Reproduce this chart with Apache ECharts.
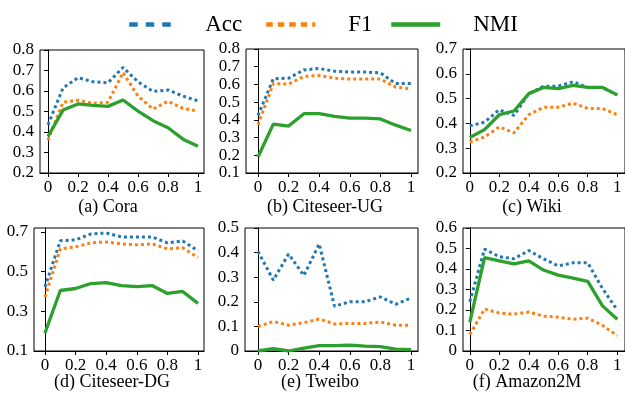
<!DOCTYPE html>
<html>
<head>
<meta charset="utf-8">
<script src="https://cdn.jsdelivr.net/npm/echarts@6/dist/echarts.min.js"></script>
<style>
  html, body { margin: 0; padding: 0; background: #fff; }
  #chart { width: 625px; height: 395px; }
</style>
</head>
<body>
<div id="chart"></div>
<script>
// x positions of the points (ratio), and x tick labels
const xs = [0, 0.1, 0.2, 0.3, 0.4, 0.5, 0.6, 0.7, 0.8, 0.9, 1];
const xTicks = [0, 0.2, 0.4, 0.6, 0.8, 1];

// (a) Cora
const coraAcc = [0.435, 0.615, 0.665, 0.645, 0.64, 0.715, 0.645, 0.598, 0.605, 0.575, 0.552];
const coraF1 = [0.36, 0.545, 0.555, 0.54, 0.545, 0.69, 0.575, 0.512, 0.55, 0.515, 0.502];
const coraNmi = [0.378, 0.507, 0.537, 0.53, 0.525, 0.556, 0.502, 0.455, 0.421, 0.365, 0.33];
const coraTicks = [0.2, 0.3, 0.4, 0.5, 0.6, 0.7, 0.8];

// (b) Citeseer-UG
const ugAcc = [0.425, 0.632, 0.635, 0.682, 0.69, 0.675, 0.67, 0.67, 0.665, 0.605, 0.605];
const ugF1 = [0.372, 0.605, 0.602, 0.645, 0.65, 0.635, 0.63, 0.63, 0.63, 0.585, 0.575];
const ugNmi = [0.19, 0.376, 0.365, 0.435, 0.435, 0.42, 0.41, 0.41, 0.405, 0.37, 0.34];
const ugTicks = [0.1, 0.2, 0.3, 0.4, 0.5, 0.6, 0.7, 0.8];

// (c) Wiki
const wikiAcc = [0.39, 0.405, 0.455, 0.432, 0.52, 0.55, 0.55, 0.568, 0.545, 0.545, 0.515];
const wikiF1 = [0.325, 0.345, 0.386, 0.362, 0.435, 0.465, 0.465, 0.482, 0.46, 0.46, 0.435];
const wikiNmi = [0.343, 0.375, 0.435, 0.45, 0.52, 0.545, 0.54, 0.553, 0.545, 0.545, 0.515];
const wikiTicks = [0.2, 0.3, 0.4, 0.5, 0.6, 0.7];

// (d) Citeseer-DG
const dgAcc = [0.423, 0.656, 0.66, 0.69, 0.695, 0.675, 0.675, 0.675, 0.645, 0.655, 0.605];
const dgF1 = [0.372, 0.615, 0.625, 0.645, 0.65, 0.64, 0.635, 0.64, 0.615, 0.62, 0.571];
const dgNmi = [0.191, 0.405, 0.415, 0.44, 0.445, 0.43, 0.425, 0.43, 0.39, 0.4, 0.34];
const dgTicks = [0.1, 0.3, 0.5, 0.7];

// (e) Tweibo
const twAcc = [0.405, 0.288, 0.394, 0.307, 0.435, 0.182, 0.2, 0.2, 0.22, 0.19, 0.215];
const twF1 = [0.1, 0.12, 0.105, 0.115, 0.13, 0.11, 0.112, 0.112, 0.118, 0.105, 0.105];
const twNmi = [0.0, 0.01, 0.0, 0.012, 0.022, 0.022, 0.024, 0.02, 0.018, 0.008, 0.005];
const twTicks = [0, 0.1, 0.2, 0.3, 0.4, 0.5];

// (f) Amazon2M
const amAcc = [0.24, 0.497, 0.46, 0.45, 0.49, 0.45, 0.415, 0.43, 0.43, 0.305, 0.2];
const amF1 = [0.08, 0.205, 0.185, 0.18, 0.19, 0.17, 0.165, 0.155, 0.16, 0.125, 0.075];
const amNmi = [0.14, 0.455, 0.44, 0.425, 0.44, 0.395, 0.37, 0.355, 0.34, 0.22, 0.155];
const amTicks = [0, 0.1, 0.2, 0.3, 0.4, 0.5, 0.6];

const captions = ['(a) Cora', '(b) Citeseer-UG', '(c) Wiki', '(d) Citeseer-DG', '(e) Tweibo', '(f) Amazon2M'];

const panels = [
  { acc: coraAcc, f1: coraF1, nmi: coraNmi, ticks: coraTicks, yMax: 0.8 },
  { acc: ugAcc, f1: ugF1, nmi: ugNmi, ticks: ugTicks, yMax: 0.8 },
  { acc: wikiAcc, f1: wikiF1, nmi: wikiNmi, ticks: wikiTicks, yMax: 0.7 },
  { acc: dgAcc, f1: dgF1, nmi: dgNmi, ticks: dgTicks, yMax: 0.72 },
  { acc: twAcc, f1: twF1, nmi: twNmi, ticks: twTicks, yMax: 0.5 },
  { acc: amAcc, f1: amF1, nmi: amNmi, ticks: amTicks, yMax: 0.6 }
];

// frame box [left, top, right, bottom], pixel x of value 0 and 1, caption centre
const boxes = [
  { l: 40, t: 50, r: 204, b: 173, x0: 48, x1: 198, cx: 108, cy: 208 },
  { l: 246, t: 49, r: 418, b: 173, x0: 258, x1: 411, cx: 325, cy: 208 },
  { l: 463, t: 49, r: 630, b: 173, x0: 470, x1: 622, cx: 532, cy: 208 },
  { l: 34, t: 228, r: 204, b: 351, x0: 45, x1: 198, cx: 112, cy: 383 },
  { l: 245, t: 228, r: 418, b: 351, x0: 258, x1: 411, cx: 320, cy: 383 },
  { l: 463, t: 228, r: 630, b: 351, x0: 470, x1: 622, cx: 527, cy: 383 }
];

const FONT = "'Liberation Serif', 'Times New Roman', serif";
const colors = { Acc: '#1f77b4', F1: '#ff7f0e', NMI: '#2ca02c' };

const grid = [];
const xAxis = [];
const yAxis = [];
const series = [];
const title = [];

panels.forEach((p, i) => {
  const b = boxes[i];
  const scale = b.x1 - b.x0;
  grid.push({
    left: b.l,
    top: b.t,
    width: b.r - b.l,
    height: b.b - b.t,
    show: true,
    borderColor: '#000',
    borderWidth: 1,
    backgroundColor: 'transparent'
  });
  xAxis.push({
    type: 'value',
    gridIndex: i,
    min: -(b.x0 - b.l) / scale,
    max: 1 + (b.r - b.x1) / scale,
    splitLine: { show: false },
    axisLine: { show: true, lineStyle: { color: '#000', width: 1 } },
    axisTick: { show: true, length: 4, customValues: xTicks, lineStyle: { color: '#000' } },
    axisLabel: { customValues: xTicks, margin: 6, color: '#000', fontSize: 17, fontFamily: FONT }
  });
  yAxis.push({
    type: 'value',
    gridIndex: i,
    min: p.ticks[0],
    max: p.yMax,
    splitLine: { show: false },
    axisLine: { show: true, lineStyle: { color: '#000', width: 1 } },
    axisTick: { show: true, length: 4, customValues: p.ticks, lineStyle: { color: '#000' } },
    axisLabel: { customValues: p.ticks, margin: 6, color: '#000', fontSize: 17, fontFamily: FONT }
  });
  [['Acc', p.acc], ['F1', p.f1], ['NMI', p.nmi]].forEach(([name, vals]) => {
    const solid = name === 'NMI';
    series.push({
      name,
      type: 'line',
      xAxisIndex: i,
      yAxisIndex: i,
      data: xs.map((x, k) => [x, vals[k]]),
      symbol: 'none',
      smooth: false,
      lineStyle: {
        color: colors[name],
        width: solid ? 3.3 : 3,
        type: solid ? 'solid' : [3, 3],
        cap: 'butt'
      },
      itemStyle: { color: colors[name] },
      emphasis: { disabled: true },
      animation: false
    });
  });
  title.push({
    text: captions[i],
    left: b.cx,
    top: b.cy - 10,
    textAlign: 'center',
    padding: 0,
    textStyle: { fontSize: 18, fontWeight: 'normal', color: '#000', fontFamily: FONT }
  });
});

const legendBase = {
  top: 13,
  padding: 0,
  itemHeight: 14,
  selectedMode: false,
  itemStyle: { opacity: 0, borderWidth: 0 },
  textStyle: { fontSize: 23, color: '#000', fontFamily: FONT, padding: [0, 0, 0, 28] }
};

const legend = [
  { ...legendBase, left: 127, itemWidth: 43, data: [{ name: 'Acc', lineStyle: { width: 4.5, type: [8.5, 8] } }] },
  { ...legendBase, left: 264, itemWidth: 49, data: [{ name: 'F1', lineStyle: { width: 4.5, type: [6.5, 5] } }] },
  { ...legendBase, left: 389, itemWidth: 49, data: [{ name: 'NMI', lineStyle: { width: 4.5, type: 'solid' } }] }
];

const myChart = echarts.init(document.getElementById('chart'), null, { renderer: 'canvas' });
myChart.setOption({
  backgroundColor: '#fff',
  animation: false,
  title,
  legend,
  grid,
  xAxis,
  yAxis,
  series
});
</script>
</body>
</html>
